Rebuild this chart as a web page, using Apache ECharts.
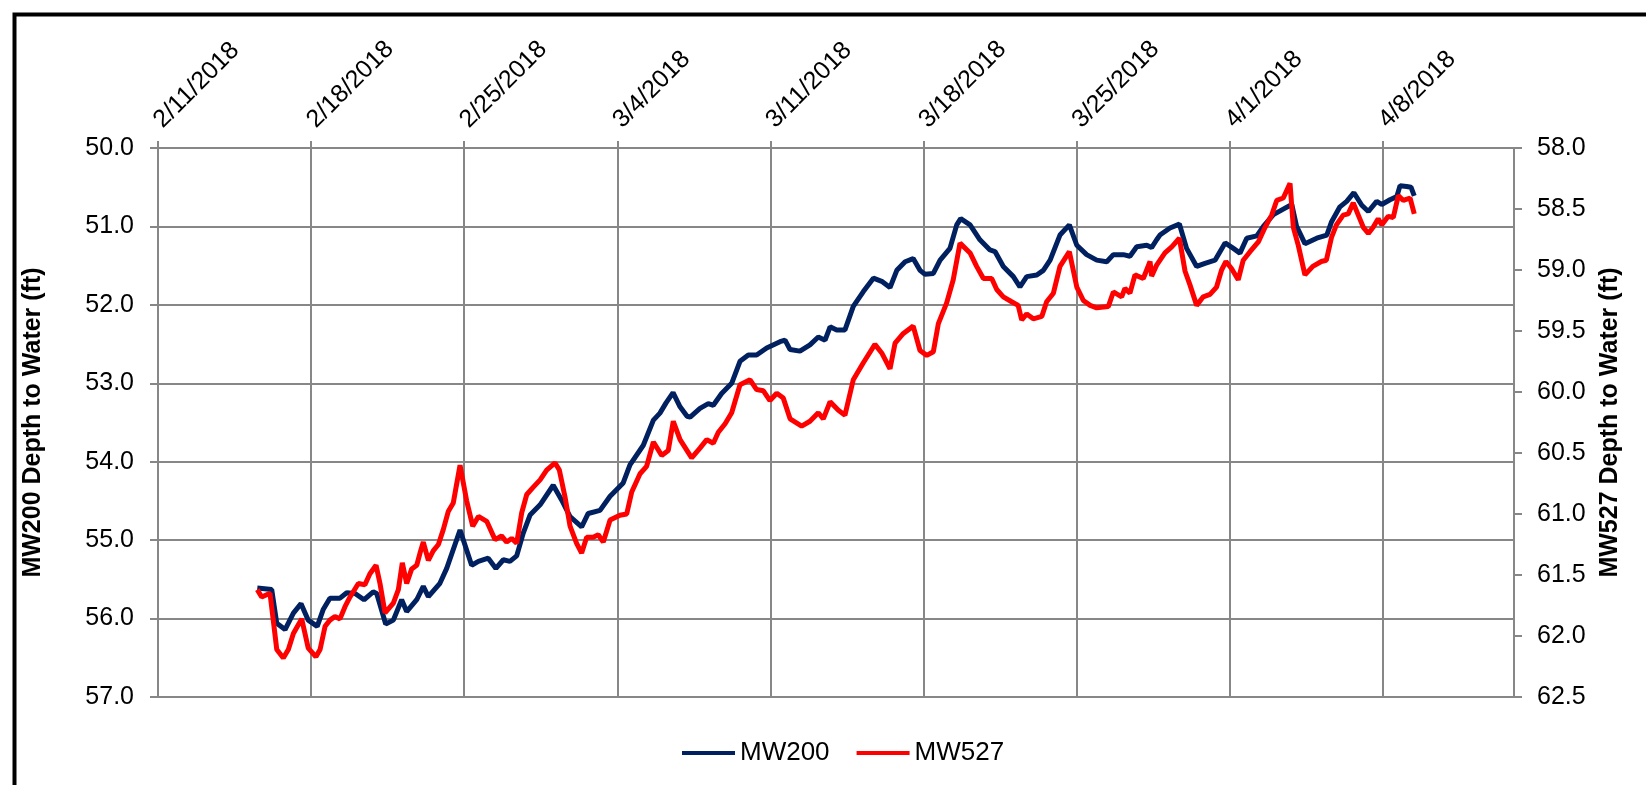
<!DOCTYPE html>
<html>
<head>
<meta charset="utf-8">
<script src="https://cdn.jsdelivr.net/npm/echarts@6/dist/echarts.min.js"></script>
<style>
html,body{margin:0;padding:0;background:#fff;}
#chart{width:1646px;height:785px;}
</style>
</head>
<body>
<div id="chart"></div>
<script>
// x values: days after 2/11/2018
const mw200Days = [4.54,5.20,5.43,5.81,6.19,6.54,6.87,7.28,7.56,7.86,8.32,8.63,9.01,9.42,9.84,10.00,10.41,10.76,11.14,11.37,11.83,12.13,12.36,12.89,13.20,13.81,14.34,14.65,15.10,15.45,15.79,16.09,16.40,16.70,17.01,17.47,18.07,18.46,18.84,19.37,19.67,20.21,20.67,21.27,21.58,22.19,22.65,22.95,23.23,23.55,23.87,24.19,24.33,24.78,25.16,25.39,25.77,26.23,26.61,26.99,27.37,27.83,28.44,28.67,28.90,29.35,29.81,30.19,30.50,30.73,31.03,31.41,31.79,32.25,32.71,33.09,33.47,33.78,34.16,34.53,34.84,35.07,35.45,35.76,36.21,36.52,36.70,37.13,37.58,38.04,38.27,38.65,39.11,39.41,39.72,40.18,40.48,40.79,41.24,41.67,42.01,42.46,42.92,43.38,43.68,44.14,44.44,44.75,45.21,45.43,45.66,45.81,46.27,46.70,47.03,47.49,47.87,48.33,48.79,49.17,49.47,49.78,50.24,50.54,51.00,51.45,51.84,52.06,52.44,52.98,53.44,53.66,54.04,54.35,54.68,55.04,55.34,55.72,55.95,56.33,56.64,56.79,57.09,57.29,57.44];
const mw200Depth = [55.61,55.63,56.06,56.14,55.93,55.81,56.02,56.10,55.88,55.74,55.74,55.67,55.68,55.76,55.66,55.68,56.07,56.02,55.76,55.91,55.76,55.59,55.72,55.55,55.36,54.87,55.32,55.27,55.23,55.36,55.25,55.27,55.20,54.91,54.68,54.55,54.30,54.49,54.70,54.83,54.66,54.62,54.44,54.27,54.04,53.79,53.47,53.38,53.25,53.12,53.30,53.42,53.43,53.32,53.26,53.28,53.13,53.00,52.72,52.64,52.64,52.55,52.47,52.45,52.57,52.59,52.51,52.41,52.45,52.28,52.32,52.32,52.02,51.83,51.66,51.70,51.78,51.56,51.45,51.41,51.56,51.61,51.60,51.43,51.28,50.98,50.90,50.98,51.17,51.30,51.32,51.51,51.64,51.77,51.64,51.62,51.56,51.43,51.11,50.98,51.24,51.36,51.43,51.45,51.36,51.36,51.38,51.26,51.24,51.27,51.17,51.11,51.02,50.97,51.28,51.51,51.47,51.43,51.21,51.28,51.34,51.15,51.12,51.00,50.85,50.78,50.72,51.00,51.22,51.15,51.11,50.94,50.75,50.68,50.57,50.73,50.81,50.68,50.72,50.66,50.62,50.48,50.49,50.50,50.61];
const mw527Days = [4.54,4.74,5.12,5.27,5.43,5.73,5.96,6.19,6.41,6.57,6.72,6.87,7.22,7.41,7.64,7.86,8.09,8.32,8.55,8.78,9.16,9.46,9.69,9.97,10.15,10.38,10.76,10.99,11.17,11.37,11.60,11.83,11.98,12.13,12.36,12.59,12.82,13.04,13.27,13.50,13.81,14.11,14.39,14.65,15.03,15.41,15.71,15.94,16.17,16.40,16.63,16.86,17.16,17.47,17.77,18.15,18.35,18.61,18.84,19.14,19.37,19.60,19.90,20.13,20.36,20.67,21.12,21.43,21.66,22.04,22.34,22.65,23.03,23.33,23.56,23.87,24.40,24.78,25.09,25.39,25.62,25.93,26.23,26.61,27.07,27.37,27.68,27.98,28.29,28.59,28.90,29.43,29.81,30.19,30.42,30.73,31.11,31.41,31.79,32.25,32.78,33.09,33.47,33.70,34.08,34.53,34.84,35.15,35.45,35.68,36.06,36.36,36.67,37.13,37.43,37.74,38.12,38.35,38.65,39.03,39.33,39.49,39.72,40.02,40.41,40.63,40.94,41.24,41.67,42.01,42.31,42.62,42.92,43.45,43.68,44.06,44.21,44.44,44.67,45.05,45.36,45.43,45.66,46.04,46.35,46.70,46.96,47.18,47.49,47.79,48.10,48.40,48.63,48.83,49.09,49.39,49.62,49.93,50.31,50.62,50.92,51.15,51.45,51.76,51.91,52.14,52.44,52.80,53.19,53.42,53.66,53.88,54.19,54.42,54.65,54.88,55.11,55.34,55.56,55.79,55.95,56.25,56.48,56.71,56.94,57.25,57.44];
const mw527Depth = [61.62,61.68,61.65,61.87,62.11,62.18,62.11,61.98,61.91,61.86,61.98,62.10,62.17,62.11,61.92,61.87,61.84,61.86,61.76,61.68,61.57,61.58,61.49,61.42,61.57,61.81,61.73,61.62,61.40,61.57,61.45,61.42,61.32,61.23,61.38,61.30,61.25,61.13,60.98,60.91,60.60,60.89,61.10,61.02,61.06,61.21,61.18,61.23,61.20,61.24,60.99,60.84,60.78,60.72,60.64,60.58,60.64,60.86,61.10,61.24,61.32,61.19,61.19,61.17,61.23,61.05,61.01,61.00,60.82,60.67,60.61,60.41,60.52,60.48,60.24,60.39,60.54,60.46,60.39,60.42,60.33,60.26,60.17,59.94,59.90,59.98,59.99,60.07,60.01,60.05,60.22,60.28,60.24,60.17,60.22,60.08,60.15,60.19,59.90,59.76,59.61,59.68,59.81,59.60,59.52,59.46,59.66,59.70,59.67,59.44,59.27,59.08,58.78,58.86,58.97,59.07,59.07,59.16,59.22,59.26,59.29,59.41,59.36,59.40,59.38,59.26,59.19,58.97,58.85,59.14,59.25,59.29,59.31,59.30,59.18,59.22,59.15,59.19,59.04,59.07,58.93,59.05,58.96,58.86,58.81,58.74,59.01,59.12,59.29,59.22,59.20,59.14,59.00,58.93,58.99,59.08,58.92,58.85,58.77,58.65,58.55,58.43,58.41,58.29,58.65,58.80,59.04,58.97,58.93,58.92,58.73,58.63,58.55,58.54,58.45,58.55,58.65,58.70,58.65,58.58,58.63,58.56,58.57,58.39,58.43,58.41,58.54];

const seriesNames = ['MW200', 'MW527'];
const leftAxisTitle = 'MW200 Depth to Water (ft)';
const rightAxisTitle = 'MW527 Depth to Water (ft)';
const startDate = [2018, 1, 11]; // Feb 11 2018
const dayRange = [0, 62];

function dayLabel(d) {
  if (Math.round(d) % 7 !== 0) return '';
  const dt = new Date(Date.UTC(startDate[0], startDate[1], startDate[2] + Math.round(d)));
  return (dt.getUTCMonth() + 1) + '/' + dt.getUTCDate() + '/' + dt.getUTCFullYear();
}
function zip(a, b) { return a.map((v, i) => [v, b[i]]); }

const FONT = '"Liberation Sans", Arial, sans-serif';
const GRID = '#878787';

const chart = echarts.init(document.getElementById('chart'), null, {renderer: 'canvas'});
chart.setOption({
  animation: false,
  backgroundColor: '#fff',
  textStyle: {fontFamily: FONT},
  grid: {left: 158, right: 132, top: 148, bottom: 88, containLabel: false},
  graphic: [{
    type: 'rect', left: 12, top: 12, silent: true,
    shape: {x: 0, y: 0, width: 1700, height: 800},
    style: {fill: 'none', stroke: '#000', lineWidth: 4}
  }],
  legend: {
    left: 677, top: 735,
    itemWidth: 53, itemHeight: 4, itemGap: 27,
    icon: 'rect',
    textStyle: {fontSize: 26, color: '#000', fontFamily: FONT},
    data: seriesNames
  },
  xAxis: {
    type: 'value', position: 'top',
    min: dayRange[0], max: dayRange[1], interval: 7,
    axisLine: {show: true, lineStyle: {color: GRID, width: 2}},
    axisTick: {show: true, length: 7, lineStyle: {color: GRID, width: 2}},
    splitLine: {show: true, lineStyle: {color: GRID, width: 2}},
    axisLabel: {rotate: -45, margin: 24, fontSize: 25, color: '#000', fontFamily: FONT, formatter: dayLabel, showMaxLabel: false}
  },
  yAxis: [{
    type: 'value', inverse: true, min: 50, max: 57, interval: 1, position: 'left',
    name: leftAxisTitle, nameLocation: 'middle', nameGap: 112, nameRotate: 90,
    nameTextStyle: {fontSize: 25, fontWeight: 'bold', color: '#000', fontFamily: FONT},
    axisLine: {show: true, lineStyle: {color: GRID, width: 2}},
    axisTick: {show: true, length: 8, lineStyle: {color: GRID, width: 2}},
    splitLine: {show: true, lineStyle: {color: GRID, width: 2}},
    axisLabel: {margin: 24, fontSize: 25, color: '#000', fontFamily: FONT, formatter: v => v.toFixed(1)}
  }, {
    type: 'value', inverse: true, min: 58, max: 62.5, interval: 0.5, position: 'right',
    name: rightAxisTitle, nameLocation: 'middle', nameGap: 84, nameRotate: 90,
    nameTextStyle: {fontSize: 25, fontWeight: 'bold', color: '#000', fontFamily: FONT},
    axisLine: {show: true, lineStyle: {color: GRID, width: 2}},
    axisTick: {show: true, length: 8, lineStyle: {color: GRID, width: 2}},
    splitLine: {show: false},
    axisLabel: {margin: 23, fontSize: 25, color: '#000', fontFamily: FONT, formatter: v => v.toFixed(1)}
  }],
  series: [{
    name: seriesNames[0], type: 'line', yAxisIndex: 0, showSymbol: false,
    color: '#002060', lineStyle: {width: 5, color: '#002060'},
    data: zip(mw200Days, mw200Depth)
  }, {
    name: seriesNames[1], type: 'line', yAxisIndex: 1, showSymbol: false,
    color: '#ff0000', lineStyle: {width: 5, color: '#ff0000'},
    data: zip(mw527Days, mw527Depth)
  }]
});
</script>
</body>
</html>
